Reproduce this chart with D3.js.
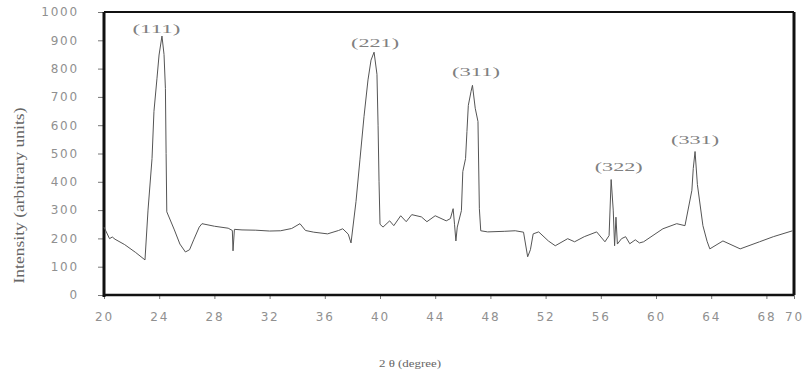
<!DOCTYPE html>
<html>
<head>
<meta charset="UTF-8">
<title>XRD pattern</title>
<style>
    body { margin: 0; padding: 0; background: #fff; }
    svg { display: block; }
    .tick text { font-family: 'DejaVu Sans', sans-serif; fill: #909090; }
    .peak { font-family: 'Liberation Serif', serif; fill: #808080; }
    .title { font-family: 'Liberation Serif', serif; fill: #666; }
</style>
</head>
<body>
<svg></svg>
<script src="https://d3js.org/d3.v7.min.js"></script>
<script>

// chart size
let w = 811, h = 374;

// diffraction pattern
let twoTheta = [20.0, 20.4, 20.6, 20.8, 21.5, 22.3, 22.97, 23.19, 23.48, 23.62, 23.84, 23.99, 24.2,
    24.35, 24.45, 24.5, 24.55, 24.8, 25.1, 25.5, 25.9, 26.2, 26.5, 26.9, 27.1, 28.0, 29.0, 29.3, 29.35,
    29.45, 30.0, 31.0, 32.0, 32.8, 33.6, 34.2, 34.6, 35.2, 36.2, 37.0, 37.3, 37.7, 37.9, 38.26, 38.55,
    38.84, 39.13, 39.35, 39.57, 39.78, 39.86, 39.93, 40.0, 40.22, 40.7, 41.0, 41.5, 41.9, 42.3, 43.0,
    43.4, 44.0, 44.8, 45.1, 45.3, 45.4, 45.5, 45.6, 45.9, 46.0, 46.2, 46.3, 46.4, 46.6, 46.7, 46.9,
    47.1, 47.2, 47.3, 47.8, 49.0, 49.8, 50.4, 50.7, 50.9, 51.1, 51.5, 52.2, 52.7, 53.6, 54.1, 54.8,
    55.7, 56.3, 56.6, 56.75, 56.9, 57.0, 57.1, 57.2, 57.5, 57.8, 58.1, 58.5, 58.8, 59.1, 60.5, 61.5,
    62.1, 62.6, 62.7, 62.83, 63.0, 63.4, 63.7, 63.9, 64.85, 66.1, 67.5, 68.5, 69.9];
let intensity = [240, 199, 205, 197, 178, 150, 124, 300, 482, 649, 766, 848, 915,
    850, 730, 500, 294, 265, 230, 180, 152, 160, 195, 240, 252, 243, 236, 228, 156,
    232, 230, 229, 226, 227, 235, 252, 228, 222, 216, 228, 234, 215, 184, 330, 480,
    630, 760, 830, 858, 780, 600, 400, 250, 240, 262, 245, 280, 259, 284, 276,
    259, 280, 262, 270, 305, 250, 191, 240, 298, 436, 482, 578, 670, 720, 741, 660,
    613, 305, 227, 223, 225, 227, 222, 135, 160, 216, 223, 191, 174, 199, 188, 206,
    223, 188, 210, 408, 300, 174, 275, 180, 199, 206, 181, 195, 184, 188, 234, 252,
    245, 370, 447, 507, 390, 245, 190, 163, 191, 163, 188, 206, 227];

// peak labels (Miller indices) and where they sit
let peakNames = ["(111)", "(221)", "(311)", "(322)", "(331)"];
let peakTheta = [23.8, 39.64, 46.96, 57.3, 62.83];
let peakLevel = [925, 878, 775, 437, 532];

// axis ticks
let xTicks = [20, 24, 28, 32, 36, 40, 44, 48, 52, 56, 60, 64, 68, 70];
let yTicks = [0, 100, 200, 300, 400, 500, 600, 700, 800, 900, 1000];

let svg = d3.select("svg")
    .attr("width", w)
    .attr("height", h);

let x = d3.scaleLinear().domain([20, 70]).range([104, 794]);
let y = d3.scaleLinear().domain([0, 1000]).range([295, 12]);

// axes
let xAxis = svg.append("g")
    .attr("transform", `translate(0, ${y(0)})`)
    .call(d3.axisBottom(x).tickValues(xTicks).tickSize(4).tickPadding(13).tickFormat(d3.format("d")));
let yAxis = svg.append("g")
    .attr("transform", `translate(${x(20)}, 0)`)
    .call(d3.axisLeft(y).tickValues(yTicks).tickSize(6).tickPadding(19).tickFormat(d3.format("d")));

[xAxis, yAxis].forEach(a => {
    a.select(".domain").remove();
    a.selectAll(".tick line").attr("stroke", "#777").attr("stroke-width", 1);
    a.selectAll(".tick text").attr("font-size", 12).attr("letter-spacing", "1.8px");
});

// frame: thick left/bottom, thinner top/right
svg.append("line").attr("x1", x(20)).attr("x2", x(20)).attr("y1", y(1000)).attr("y2", y(0) + 2)
    .attr("stroke", "#111").attr("stroke-width", 3);
svg.append("line").attr("x1", x(20)).attr("x2", x(70)).attr("y1", y(0)).attr("y2", y(0))
    .attr("stroke", "#111").attr("stroke-width", 2.5);
svg.append("line").attr("x1", x(20)).attr("x2", x(70)).attr("y1", y(1000)).attr("y2", y(1000))
    .attr("stroke", "#111").attr("stroke-width", 2);
svg.append("line").attr("x1", x(70)).attr("x2", x(70)).attr("y1", y(1000)).attr("y2", y(0))
    .attr("stroke", "#111").attr("stroke-width", 3);

// the pattern
let pts = twoTheta.map((t, i) => [t, intensity[i]]);
svg.append("path")
    .datum(pts)
    .attr("fill", "none")
    .attr("stroke", "#555")
    .attr("stroke-width", 1)
    .attr("d", d3.line().x(d => x(d[0])).y(d => y(d[1])));

// peak labels
svg.append("g")
    .selectAll("text")
    .data(peakNames)
    .enter()
    .append("text")
    .attr("class", "peak")
    .attr("x", (d, i) => x(peakTheta[i]))
    .attr("y", (d, i) => y(peakLevel[i]))
    .attr("text-anchor", "middle")
    .attr("font-size", 13)
    .attr("textLength", 48)
    .attr("lengthAdjust", "spacingAndGlyphs")
    .text(d => d);

// axis titles
svg.append("text")
    .attr("class", "title")
    .attr("transform", `translate(24, ${(y(0) + y(1000)) / 2 + 42}) rotate(-90)`)
    .attr("text-anchor", "middle")
    .attr("font-size", 14)
    .attr("textLength", 176)
    .attr("lengthAdjust", "spacingAndGlyphs")
    .text("Intensity (arbitrary units)");

svg.append("text")
    .attr("class", "title")
    .attr("x", 410)
    .attr("y", 367)
    .attr("text-anchor", "middle")
    .attr("font-size", 11)
    .attr("textLength", 62)
    .attr("lengthAdjust", "spacingAndGlyphs")
    .text("2 θ (degree)");

</script>
</body>
</html>
